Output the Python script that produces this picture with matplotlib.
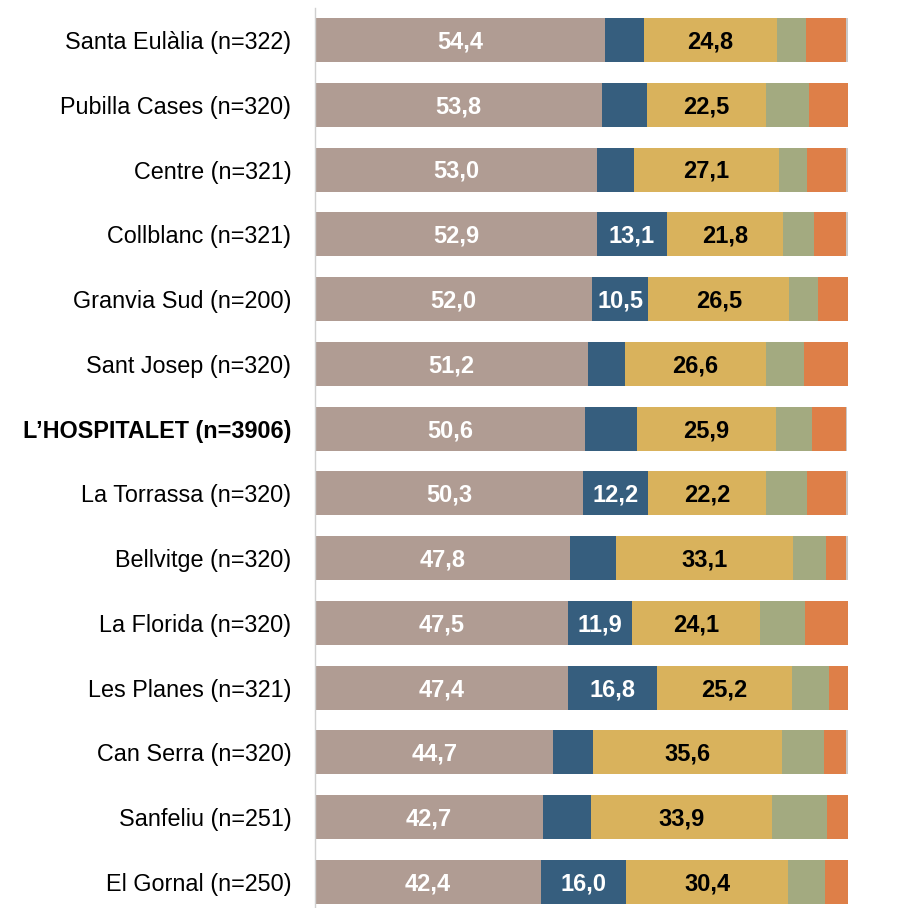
import matplotlib.pyplot as plt
import numpy as np

plt.rcParams['font.family'] = ['Liberation Sans', 'DejaVu Sans']

barris = ['Santa Eulàlia (n=322)', 'Pubilla Cases (n=320)', 'Centre (n=321)',
          'Collblanc (n=321)', 'Granvia Sud (n=200)', 'Sant Josep (n=320)',
          'L\u2019HOSPITALET (n=3906)', 'La Torrassa (n=320)', 'Bellvitge (n=320)',
          'La Florida (n=320)', 'Les Planes (n=321)', 'Can Serra (n=320)',
          'Sanfeliu (n=251)', 'El Gornal (n=250)']

s1 = [54.4, 53.8, 53.0, 52.9, 52.0, 51.2, 50.6, 50.3, 47.8, 47.5, 47.4, 44.7, 42.7, 42.4]
s2 = [7.4, 8.4, 6.9, 13.1, 10.5, 6.9, 9.9, 12.2, 8.7, 11.9, 16.8, 7.4, 9.1, 16.0]
s3 = [24.8, 22.5, 27.1, 21.8, 26.5, 26.6, 25.9, 22.2, 33.1, 24.1, 25.2, 35.6, 33.9, 30.4]
s4 = [5.5, 8.0, 5.4, 5.8, 5.4, 7.1, 6.9, 7.6, 6.3, 8.4, 7.1, 7.8, 10.4, 6.9]
s5 = [7.5, 7.3, 7.2, 6.1, 5.6, 8.2, 6.3, 7.3, 3.7, 8.1, 3.5, 4.1, 3.9, 4.3]
s6 = [0.4, 0.0, 0.4, 0.3, 0.0, 0.0, 0.3, 0.4, 0.4, 0.0, 0.0, 0.4, 0.0, 0.0]

series = [s1, s2, s3, s4, s5, s6]
colors = ['#B09C93', '#365E7E', '#D9B25C', '#A3AA80', '#DE7F48', '#C8C8C8']
txt_col = ['white', 'white', 'black', None, None, None]
min_lab = [0, 10, 0, 100, 100, 100]

fig = plt.figure(figsize=(9.01, 9.08), dpi=100)
ax = fig.add_axes([315 / 901, 0, 533 / 901, (908 - 7.6) / 908])

y = np.arange(len(barris))
left = np.zeros(len(barris))
for vals, c, tc, mn in zip(series, colors, txt_col, min_lab):
    vals = np.array(vals)
    ax.barh(y, vals, left=left, height=0.68, color=c, edgecolor='none')
    if tc is not None:
        for i, v in enumerate(vals):
            if v >= mn:
                ax.text(left[i] + v / 2, y[i] + 0.03, f'{v:.1f}'.replace('.', ','),
                        ha='center', va='center', color=tc,
                        fontsize=17, fontweight='bold')
    left += vals

ax.set_xlim(0, 100)
ax.set_ylim(13 + 26 / 64.8, -0.5)
ax.set_yticks(y)
ax.set_yticklabels(barris, fontsize=16.8)
ax.get_yticklabels()[6].set_fontweight('bold')
ax.tick_params(axis='y', length=0, pad=17)
ax.set_xticks([])
for s in ['top', 'right', 'bottom']:
    ax.spines[s].set_visible(False)
ax.spines['left'].set_color('#D0D0D0')
ax.spines['left'].set_linewidth(1)

fig.savefig('out.png', dpi=100)
